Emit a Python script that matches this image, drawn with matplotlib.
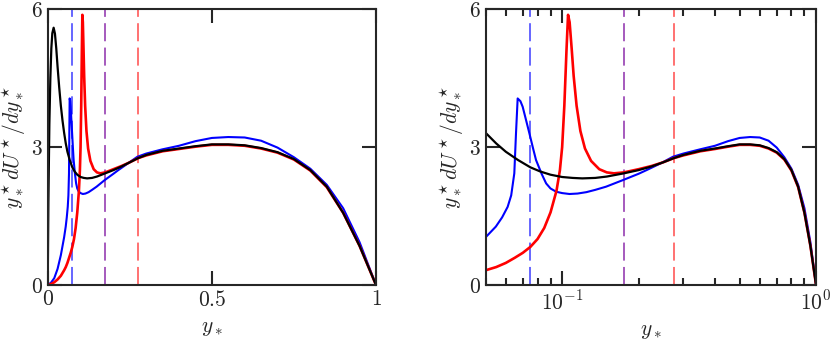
import numpy as np
import matplotlib
matplotlib.use("Agg")
import matplotlib.pyplot as plt
from matplotlib.ticker import FixedLocator, FixedFormatter, LogLocator, NullFormatter

plt.rcParams['mathtext.fontset'] = 'cm'
plt.rcParams['font.family'] = 'serif'
plt.rcParams['font.serif'] = ['cmr10', 'DejaVu Serif']

# black curve
x_black = [0, 0.002, 0.005, 0.008, 0.011, 0.014, 0.018, 0.022, 0.026, 0.03, 0.035,
           0.04, 0.045, 0.05, 0.055, 0.06, 0.067, 0.075, 0.082, 0.09, 0.1, 0.11,
           0.12, 0.135, 0.15, 0.175, 0.2, 0.225, 0.25, 0.275, 0.3, 0.35, 0.4, 0.45,
           0.5, 0.55, 0.6, 0.65, 0.7, 0.75, 0.8, 0.85, 0.9, 0.95, 1.0]
y_black = [0, 1.8, 3.5, 4.5, 5.15, 5.48, 5.6, 5.47, 5.15, 4.75, 4.3,
           3.9, 3.58, 3.31, 3.08, 2.9, 2.72, 2.56, 2.47, 2.40, 2.35, 2.33,
           2.32, 2.33, 2.36, 2.43, 2.50, 2.58, 2.67, 2.76, 2.83, 2.92, 2.97, 3.02,
           3.06, 3.06, 3.04, 2.98, 2.89, 2.74, 2.50, 2.14, 1.57, 0.85, 0.0]

# red curve
x_red = [0, 0.01, 0.02, 0.03, 0.04, 0.05, 0.055, 0.06, 0.065, 0.07, 0.075, 0.08,
         0.085, 0.09, 0.095, 0.098, 0.1, 0.102, 0.104, 0.1055, 0.107, 0.109,
         0.111, 0.114, 0.118, 0.123, 0.13, 0.14, 0.15, 0.16, 0.175, 0.2, 0.225,
         0.25, 0.275, 0.3, 0.35, 0.4, 0.45, 0.5, 0.55, 0.6, 0.65, 0.7, 0.75, 0.8,
         0.85, 0.9, 0.95, 1.0]
y_red = [0, 0.02, 0.06, 0.12, 0.2, 0.32, 0.39, 0.48, 0.59, 0.7, 0.83, 1.0,
         1.24, 1.58, 2.05, 2.5, 3.0, 3.9, 5.1, 5.88, 5.72, 5.15,
         4.55, 3.9, 3.35, 2.97, 2.7, 2.52, 2.45, 2.43, 2.45, 2.52, 2.59,
         2.67, 2.76, 2.82, 2.91, 2.96, 3.01, 3.05, 3.05, 3.03, 2.97, 2.88, 2.73, 2.49,
         2.13, 1.57, 0.85, 0.0]

# blue curve
x_blue = [0, 0.01, 0.02, 0.03, 0.04, 0.05, 0.0548, 0.058, 0.061, 0.063, 0.0648,
          0.0658, 0.0668, 0.0685, 0.0699, 0.072, 0.0743, 0.077, 0.0789, 0.083,
          0.0865, 0.09, 0.0947, 0.1, 0.1069, 0.115, 0.1245, 0.135, 0.149, 0.173,
          0.2, 0.215, 0.245, 0.273, 0.3, 0.348, 0.4, 0.45, 0.5, 0.55, 0.6, 0.65,
          0.7, 0.75, 0.8, 0.85, 0.9, 0.95, 1.0]
y_blue = [0, 0.05, 0.15, 0.35, 0.65, 1.04, 1.27, 1.47, 1.70, 1.95, 2.43,
          3.3, 4.06, 4.0, 3.88, 3.6, 3.30, 2.95, 2.72, 2.42,
          2.21, 2.10, 2.03, 2.0, 1.98, 1.99, 2.02, 2.07, 2.14, 2.28,
          2.42, 2.50, 2.65, 2.79, 2.86, 2.95, 3.03, 3.13, 3.20, 3.22, 3.21, 3.14,
          2.99, 2.78, 2.53, 2.18, 1.67, 0.93, 0.0]

# dashed reference lines
x_dash = [0.075, 0.175, 0.275]
c_dash = [(0.35, 0.35, 1.0), (0.62, 0.3, 0.72), (1.0, 0.4, 0.4)]

ylabel = r'$y_*^\star dU^\star/dy_*^\star$'
spine_c = '#262626'
fs = 15.5

fig = plt.figure(figsize=(8.3, 3.45), dpi=100)
ax1 = fig.add_axes([0.0575, 0.174, 0.3955, 0.799])
ax2 = fig.add_axes([0.5852, 0.174, 0.398, 0.799])

for ax in (ax1, ax2):
    for xd, cd in zip(x_dash, c_dash):
        ax.axvline(xd, color=cd, lw=1.3, linestyle=(0, (10, 3.5)))
    ax.plot(x_blue, y_blue, color='#0000ff', lw=1.5)
    ax.plot(x_red, y_red, color='#ff0000', lw=1.9)
    ax.plot(x_black, y_black, color='black', lw=1.6)
    ax.set_ylim(0, 6)
    ax.set_yticks([0, 3, 6])
    ax.set_yticklabels(['$0$', '$3$', '$6$'])
    ax.set_ylabel(ylabel, fontsize=fs, color=spine_c, labelpad=2)
    ax.set_xlabel('$y_*$', fontsize=fs, color=spine_c, labelpad=6)
    ax.tick_params(which='both', direction='in', top=True, right=True,
                   labelsize=fs, colors=spine_c, width=1.5)
    ax.tick_params(which='major', length=10)
    ax.tick_params(which='minor', length=5)
    for s in ax.spines.values():
        s.set_linewidth(1.5)
        s.set_color(spine_c)

ax1.set_xlim(0, 1)
ax1.set_xticks([0, 0.5, 1])
ax1.set_xticklabels(['$0$', '$0.5$', '$1$'])

ax2.set_xscale('log')
ax2.set_xlim(0.05, 1)
ax2.xaxis.set_major_locator(FixedLocator([0.1, 1]))
ax2.xaxis.set_major_formatter(FixedFormatter(['$10^{-1}$', '$10^{0}$']))
ax2.xaxis.set_minor_locator(LogLocator(base=10, subs=np.arange(2, 10)))
ax2.xaxis.set_minor_formatter(NullFormatter())

fig.savefig('out.png', dpi=100)
